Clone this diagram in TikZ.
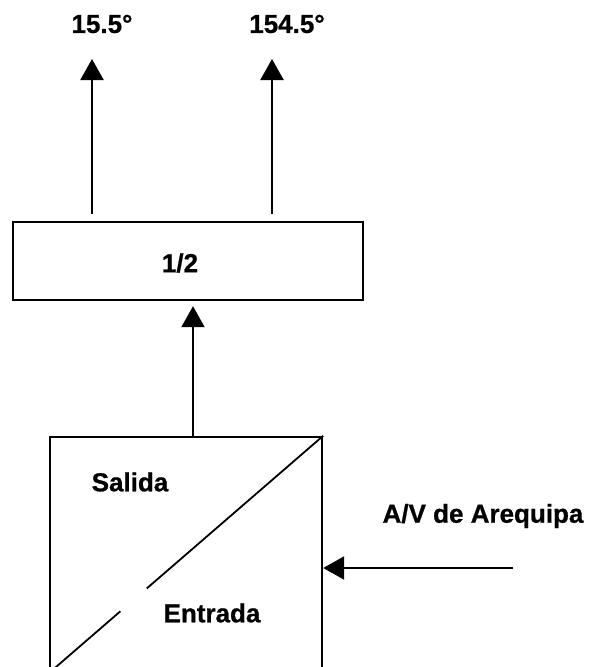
\documentclass[tikz,border=0pt]{standalone}
\usepackage{fontspec}
\setmainfont{Liberation Sans}
\newfontfamily\heavyfont[UprightFeatures={FakeBold=0.8}]{Liberation Sans Bold}
\usepackage{tikz}
\usetikzlibrary{arrows.meta,positioning,calc}
\tikzset{
  blk/.style = {draw=black, line width=2.4pt, inner sep=0pt, font=\fontsize{26}{30}\selectfont\heavyfont},
  txt/.style = {inner sep=0pt, font=\fontsize{26}{30}\selectfont\heavyfont},% etiquetas
  flow/.style = {line width=2.2pt, -{Triangle[width=23pt,length=21pt]}},
}
\begin{document}
\begin{tikzpicture}[x=1pt,y=-1pt]
\useasboundingbox (0,0) rectangle (590,667);
% divisor 1/2
\node [blk, minimum width=350pt, minimum height=78pt] (half) at (188,261) {};
\node [txt] (hlbl) at (180,263) {1/2};
\node [txt] (out1) at (102,24) {15.5°};
\node [txt] (out2) at (287,24) {154.5°};
\coordinate (t1) at (92,59);
\coordinate (t2) at (272,59);
\draw [flow, shorten <=7pt] (t1 |- half.north) -- (t1);
\draw [flow, shorten <=7pt] (t2 |- half.north) -- (t2);
% convertidor
\node [blk, minimum width=272pt, minimum height=235pt] (conv) at (186,554.5) {};
\coordinate (c1) at (193,0);
\draw [flow, shorten >=5pt] (c1 |- conv.north) -- (c1 |- half.south);
\draw [line width=1.8pt] (conv.north east) -- ($(conv.north east)!0.643!(conv.south west)$);
\draw [line width=1.8pt] ($(conv.north east)!0.739!(conv.south west)$) -- (conv.south west);
\node [txt] (sal) at (130,482) {Salida};
\node [txt] (ent) at (212,613) {Entrada};
% entrada de Arequipa
\node [txt] (areq) at (483,516) {A/V de Arequipa};
\coordinate (src) at (513,568);
\draw [flow] (src) -- (src -| conv.east);
\end{tikzpicture}
\end{document}
